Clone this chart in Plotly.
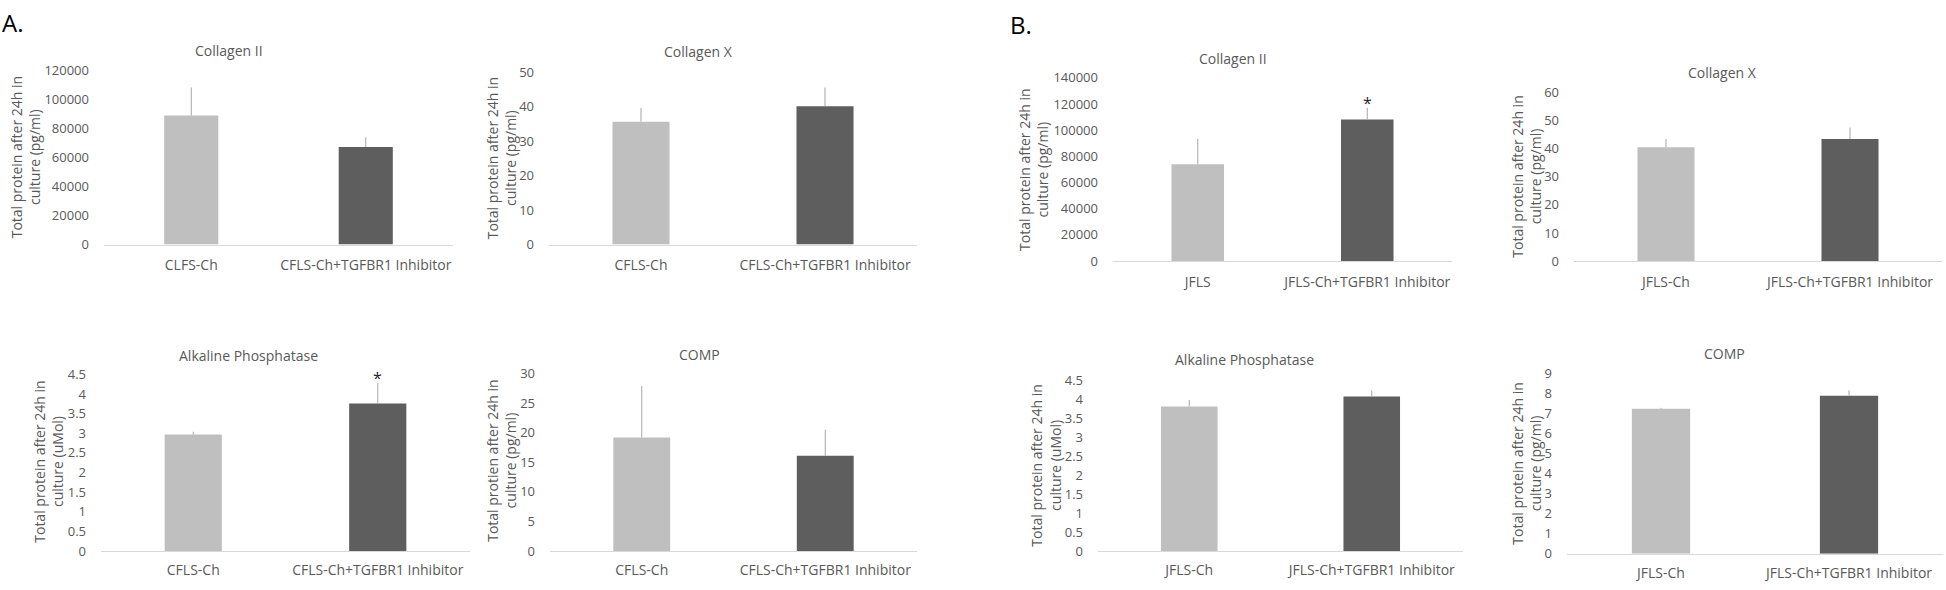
import plotly.graph_objects as go

# ---------------- data ----------------
titles = ["Collagen II", "Collagen X", "Alkaline Phosphatase", "COMP",
          "Collagen II", "Collagen X", "Alkaline Phosphatase", "COMP"]

categories = [
    ["CLFS-Ch", "CFLS-Ch+TGFBR1 Inhibitor"],
    ["CFLS-Ch", "CFLS-Ch+TGFBR1 Inhibitor"],
    ["CFLS-Ch", "CFLS-Ch+TGFBR1 Inhibitor"],
    ["CFLS-Ch", "CFLS-Ch+TGFBR1 Inhibitor"],
    ["JFLS", "JFLS-Ch+TGFBR1 Inhibitor"],
    ["JFLS-Ch", "JFLS-Ch+TGFBR1 Inhibitor"],
    ["JFLS-Ch", "JFLS-Ch+TGFBR1 Inhibitor"],
    ["JFLS-Ch", "JFLS-Ch+TGFBR1 Inhibitor"],
]

values = [
    [88700, 67100],
    [35.6, 40.1],
    [2.97, 3.76],
    [19.2, 16.1],
    [74000, 108100],
    [40.5, 43.4],
    [3.81, 4.07],
    [7.24, 7.89],
]

errors = [
    [19300, 6700],
    [4.0, 5.4],
    [0.07, 0.52],
    [8.7, 4.4],
    [19300, 9000],
    [2.9, 4.1],
    [0.17, 0.16],
    [0.05, 0.27],
]

significant = [
    [False, False],
    [False, False],
    [False, True],
    [False, False],
    [False, True],
    [False, False],
    [False, False],
    [False, False],
]

y_max = [120000, 50, 4.5, 30, 140000, 60, 4.5, 9]
y_step = [20000, 10, 0.5, 5, 20000, 10, 0.5, 1]

y_titles = [
    "Total protein after 24h in<br>culture (pg/ml)",
    "Total protein after 24h in<br>culture (pg/ml)",
    "Total protein after 24h in<br>culture (uMol)",
    "Total protien after 24h in<br>culture (pg/ml)",
    "Total protein after 24h in<br>culture (pg/ml)",
    "Total protein after 24h in<br>culture (pg/ml)",
    "Total protein after 24h in<br>culture (uMol)",
    "Total protein after 24h in<br>culture (pg/ml)",
]

panel_labels = ["A.", "B."]

# ---------------- layout (pixel geometry) ----------------
W, H = 1946, 590
# plot box: left, right, top, bottom ; title (x, y) ; y-title (x, y)
boxes = [
    (104, 453, 63, 243, 229, 43, 25, 153),
    (549, 917, 65, 243, 698, 44, 501, 154),
    (101, 470, 377, 559, 248, 357, 49, 467),
    (550, 917, 376, 559, 699, 356, 502, 466),
    (1113, 1452, 71, 260, 1233, 51, 1034, 166),
    (1574, 1942, 86, 260, 1722, 66, 1527, 173),
    (1098, 1463, 383, 559, 1244, 362, 1046, 471),
    (1567, 1943, 376, 562, 1724, 355, 1527, 469),
]
label_pos = [(0, 14), (1008, 16)]

FONT = "Open Sans"
FS = 14
TXT = "#595959"
bar_colors = ["#bfbfbf", "#5e5e5e"]

fig = go.Figure()
annotations = []
layout = {}

for i in range(8):
    n = "" if i == 0 else str(i + 1)
    l, r, t, b, tx, ty, yx, yy = boxes[i]
    fig.add_trace(go.Bar(
        x=categories[i], y=values[i],
        xaxis="x" + n, yaxis="y" + n,
        marker=dict(color=bar_colors, line=dict(width=0)),
        error_y=dict(type="data", array=errors[i], arrayminus=[0] * len(errors[i]),
                     symmetric=False, color="#a6a6a6", thickness=1, width=0),
        showlegend=False, hoverinfo="x+y",
    ))
    ticks = []
    v = 0
    while v <= y_max[i] + 1e-9:
        ticks.append(round(v, 6))
        v += y_step[i]
    layout["xaxis" + n] = dict(
        domain=[l / W, r / W], anchor="y" + n, type="category",
        range=[-0.5, len(categories[i]) - 0.5],
        showline=True, linecolor="#d9d9d9", linewidth=1,
        showgrid=False, zeroline=False, ticks="",
        ticklabelstandoff=8 if b < 300 else 6,
        tickfont=dict(family=FONT, size=FS, color=TXT),
        fixedrange=True,
    )
    layout["yaxis" + n] = dict(
        domain=[1 - b / H, 1 - t / H], anchor="x" + n,
        range=[0, y_max[i]], tickvals=ticks, tickformat="~g",
        showline=False, showgrid=False, zeroline=False, ticks="",
        ticklabelstandoff=14,
        tickfont=dict(family=FONT, size=13, color=TXT),
        fixedrange=True,
    )
    annotations.append(dict(
        text=titles[i], x=tx / W, y=1 - ty / H, xref="paper", yref="paper",
        xanchor="center", yanchor="middle", showarrow=False,
        font=dict(family=FONT, size=FS, color=TXT),
    ))
    annotations.append(dict(
        text=y_titles[i], x=yx / W, y=1 - yy / H, xref="paper", yref="paper",
        xanchor="center", yanchor="middle", showarrow=False, textangle=-90,
        font=dict(family=FONT, size=FS, color=TXT),
    ))
    for j, s in enumerate(significant[i]):
        if s:
            annotations.append(dict(
                text="*", x=categories[i][j], y=values[i][j] + errors[i][j],
                xref="x" + n, yref="y" + n, xanchor="center", yanchor="bottom",
                yshift=-8, showarrow=False,
                font=dict(family=FONT, size=16, color="#262626"),
            ))

for k, lab in enumerate(panel_labels):
    px, py = label_pos[k]
    annotations.append(dict(
        text=lab, x=px / W, y=1 - py / H, xref="paper", yref="paper",
        xanchor="left", yanchor="middle", showarrow=False,
        font=dict(family=FONT, size=24, color="#000000"),
    ))

fig.update_layout(
    width=W, height=H,
    margin=dict(l=0, r=0, t=0, b=0),
    paper_bgcolor="white", plot_bgcolor="white",
    bargap=0.69, showlegend=False,
    annotations=annotations,
    **layout,
)

fig.write_html(
    "out.html",
    config={"displayModeBar": False},
    post_script="document.body.style.margin='0';document.body.style.overflow='hidden';",
)
